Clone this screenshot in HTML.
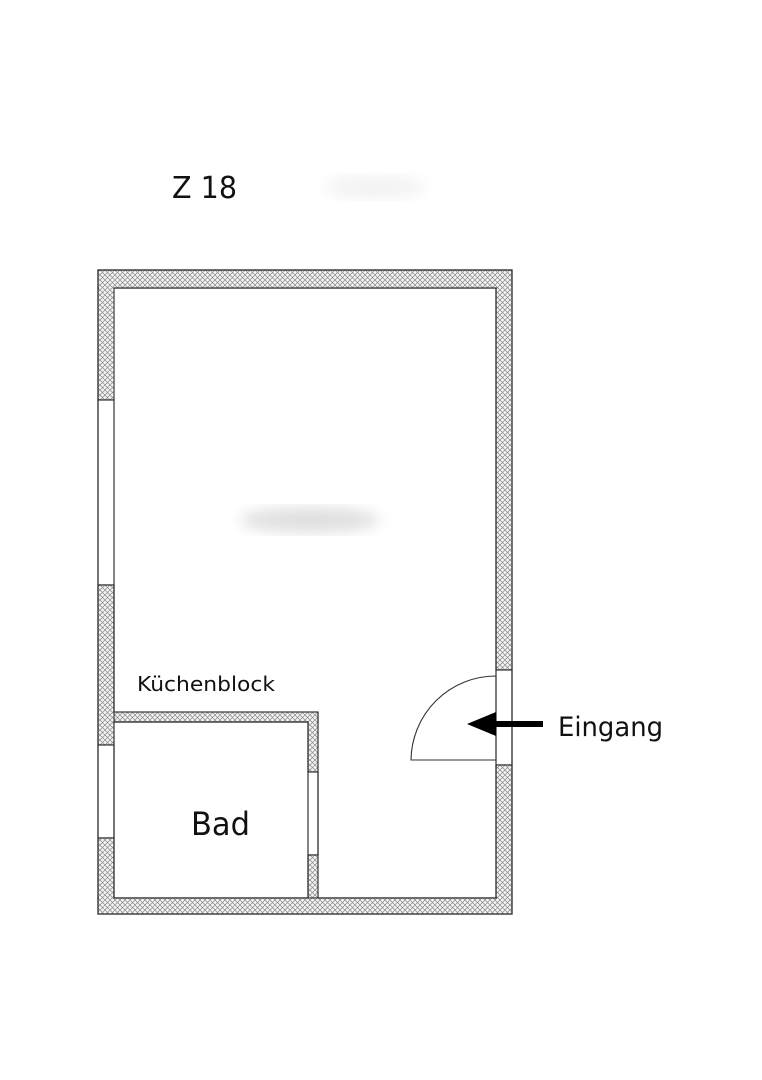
<!DOCTYPE html>
<html><head><meta charset="utf-8"><style>
html,body{margin:0;padding:0;background:#fff;}
svg{display:block;}
</style></head><body>
<svg width="762" height="1080" viewBox="0 0 762 1080" xmlns="http://www.w3.org/2000/svg">
<defs>
<pattern id="h" width="5" height="5" patternUnits="userSpaceOnUse">
<rect width="5" height="5" fill="#f4f4f4"/>
<path d="M0 0L5 5M5 0L0 5" stroke="#888" stroke-width="0.7"/>
</pattern>
<filter id="b"><feGaussianBlur stdDeviation="7"/></filter>
</defs>
<ellipse cx="375" cy="187" rx="50" ry="12" fill="#f3f3f3" filter="url(#b)"/>
<ellipse cx="310" cy="520" rx="70" ry="13" fill="#e0e0e0" filter="url(#b)"/>
<g stroke="#333" stroke-width="1.2">
<rect x="98" y="270" width="414" height="18" fill="url(#h)"/>
<rect x="98" y="898" width="414" height="16" fill="url(#h)"/>
<rect x="98" y="288" width="16" height="112" fill="url(#h)"/>
<rect x="98" y="400" width="16" height="185" fill="#fff"/>
<rect x="98" y="585" width="16" height="160" fill="url(#h)"/>
<rect x="98" y="745" width="16" height="93" fill="#fff"/>
<rect x="98" y="838" width="16" height="60" fill="url(#h)"/>
<rect x="496" y="288" width="16" height="382" fill="url(#h)"/>
<rect x="496" y="670" width="16" height="95" fill="#fff"/>
<rect x="496" y="765" width="16" height="133" fill="url(#h)"/>
<rect x="114" y="712" width="204" height="10" fill="url(#h)"/>
<rect x="308" y="722" width="10" height="50" fill="url(#h)"/>
<rect x="308" y="772" width="10" height="83" fill="#fff"/>
<rect x="308" y="855" width="10" height="43" fill="url(#h)"/>
</g>
<g fill="url(#h)">
<rect x="99" y="271" width="412" height="16.5"/>
<rect x="99" y="898.6" width="412" height="14.8"/>
<rect x="99" y="287" width="14.5" height="112"/>
<rect x="497" y="287" width="14.5" height="382"/>
<rect x="99" y="897" width="14.5" height="3"/>
<rect x="497" y="897" width="14.5" height="3"/>
<rect x="99" y="713" width="14.5" height="8"/>
<rect x="308.6" y="713" width="8.8" height="10"/>
</g>
<g stroke="#333" stroke-width="1.2" fill="none">
<path d="M114 288H496V670M496 765V898H318M308 898H114V745M114 585V712M114 722H308V772M308 855V898M318 855V772M318 722V712"/>
<path d="M98 270H512V914H98Z"/>
</g>
<g stroke="#333" stroke-width="1.1" fill="none">
<path d="M496 676V760H411A85 85 0 0 1 496 676"/>
</g>
<path d="M467 724L496 712V721H543V727H496V736Z" fill="#000"/>
<g font-family="'DejaVu Sans','Liberation Sans',sans-serif" fill="#111">
<text x="172" y="198" font-size="30" textLength="65" lengthAdjust="spacingAndGlyphs">Z 18</text>
<text x="137" y="691" font-size="20" textLength="138" lengthAdjust="spacingAndGlyphs">Küchenblock</text>
<text x="191" y="835" font-size="32" textLength="59" lengthAdjust="spacingAndGlyphs">Bad</text>
<text x="558" y="736" font-size="27" textLength="105" lengthAdjust="spacingAndGlyphs">Eingang</text>
</g>
</svg>
</body></html>
